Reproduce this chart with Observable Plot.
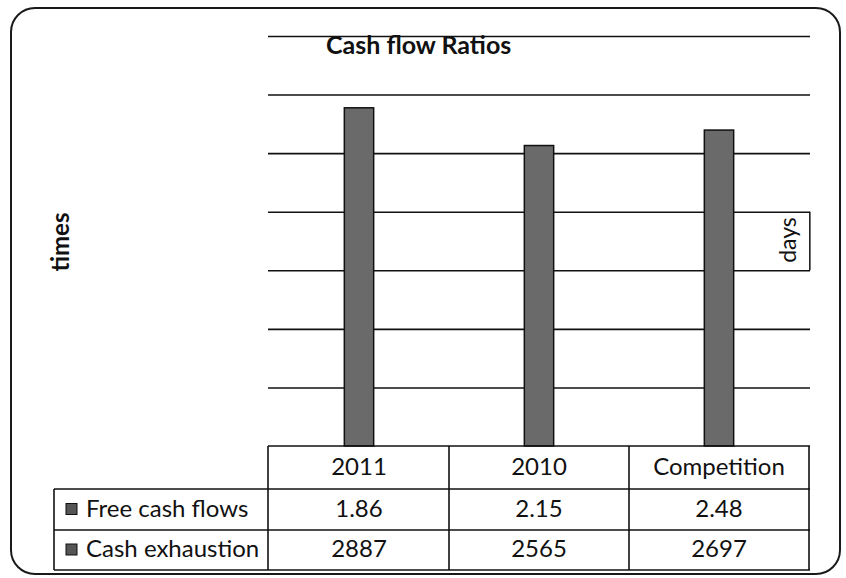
<!DOCTYPE html>
<html><head><meta charset="utf-8">
<script src="https://cdn.jsdelivr.net/npm/d3@7"></script>
<script src="https://cdn.jsdelivr.net/npm/@observablehq/plot@0.6"></script>
<style>
body{margin:0;background:#fff;}
#wrap{position:relative;width:846px;height:578px;font-family:Lato,sans-serif;}
</style></head><body><div id="wrap"></div>
<script>
const categories = ["2011", "2010", "Competition"];
const freeCashFlows = [1.86, 2.15, 2.48];
const cashExhaustion = [2887, 2565, 2697];
const seriesNames = ["Free cash flows", "Cash exhaustion"];
const gridTicks = [500, 1000, 1500, 2000, 2500, 3000, 3500];
const titleText = "Cash flow Ratios";
const leftLabel = "times";
const rightLabel = "days";

const data = categories.map((c, i) => ({category: c, free: freeCashFlows[i], cash: cashExhaustion[i]}));

const W = 846, H = 578, mL = 268, mR = 36, mT = 36, mB = 132;
const bandW = (W - mL - mR) / categories.length;
const barW = 30;

const chart = Plot.plot({
  width: W, height: H,
  marginLeft: mL, marginRight: mR, marginTop: mT, marginBottom: mB,
  x: {domain: categories, padding: 0, axis: null},
  y: {domain: [0, 3500], axis: null},
  style: {fontFamily: "Lato, sans-serif", background: "transparent"},
  marks: [
    Plot.gridY(gridTicks, {stroke: "#111", strokeOpacity: 1, strokeWidth: 1.6}),
    Plot.barY(data, {x: "category", y: "cash", fill: "#6a6a6a", stroke: "#111", strokeWidth: 1.5,
      insetLeft: (bandW - barW) / 2, insetRight: (bandW - barW) / 2}),
    Plot.ruleX([categories[categories.length - 1]], {y1: 1500, y2: 2000, dx: bandW / 2, stroke: "#111", strokeWidth: 1.5})
  ]
});

document.getElementById("wrap").appendChild(chart);
const svg = d3.select(chart);
const xs = chart.scale("x");
const bw = xs.bandwidth;

// outer rounded border
svg.insert("rect", ":first-child").attr("x", 11).attr("y", 8).attr("width", 829).attr("height", 566)
  .attr("rx", 24).attr("fill", "none").attr("stroke", "#1a1a1a").attr("stroke-width", 2);

const g = svg.append("g").attr("font-family", "Lato, sans-serif").attr("fill", "#111");

// title & axis labels
g.append("text").attr("x", 326).attr("y", 54).attr("text-anchor", "start").attr("font-size", 25)
  .attr("font-weight", "bold").text(titleText);
g.append("text").attr("transform", "translate(63,242) rotate(-90)").attr("text-anchor", "middle")
  .attr("dominant-baseline", "middle").attr("font-size", 24).attr("font-weight", "bold").text(leftLabel);
g.append("text").attr("transform", "translate(790,240) rotate(-90)").attr("text-anchor", "middle")
  .attr("dominant-baseline", "middle").attr("font-size", 23).text(rightLabel);

// data table
const tLeft = 54, xL = mL, xR = W - mR;
const rowY = [446, 489, 530, 570];
const line = (x1, y1, x2, y2) => g.append("line").attr("x1", x1).attr("y1", y1).attr("x2", x2).attr("y2", y2)
  .attr("stroke", "#111").attr("stroke-width", 1.6);
line(xL, rowY[0], xR, rowY[0]);
for (let r = 1; r < rowY.length; r++) line(tLeft, rowY[r], xR, rowY[r]);
line(tLeft, rowY[1], tLeft, rowY[3]);
line(xL, rowY[0], xL, rowY[3]);
categories.forEach(c => line(xs.apply(c) + bw, rowY[0], xs.apply(c) + bw, rowY[3]));

const fmt = [v => d3.format(".2f")(v), v => String(v)];
const series = [freeCashFlows, cashExhaustion];
categories.forEach(c => {
  g.append("text").attr("x", xs.apply(c) + bw / 2).attr("y", (rowY[0] + rowY[1]) / 2 + 1)
    .attr("text-anchor", "middle").attr("dominant-baseline", "middle").attr("font-size", 24).text(c);
});
series.forEach((vals, r) => {
  const cy = (rowY[r + 1] + rowY[r + 2]) / 2 + 1;
  g.append("rect").attr("x", 66).attr("y", cy - 7).attr("width", 11).attr("height", 11)
    .attr("fill", "#555").attr("stroke", "#111").attr("stroke-width", 1);
  g.append("text").attr("x", 86).attr("y", cy).attr("text-anchor", "start").attr("dominant-baseline", "middle")
    .attr("font-size", 24).text(seriesNames[r]);
  vals.forEach((v, i) => {
    const c = categories[i];
    g.append("text").attr("x", xs.apply(c) + bw / 2).attr("y", cy).attr("text-anchor", "middle")
      .attr("dominant-baseline", "middle").attr("font-size", 24).text(fmt[r](v));
  });
});
</script></body></html>
